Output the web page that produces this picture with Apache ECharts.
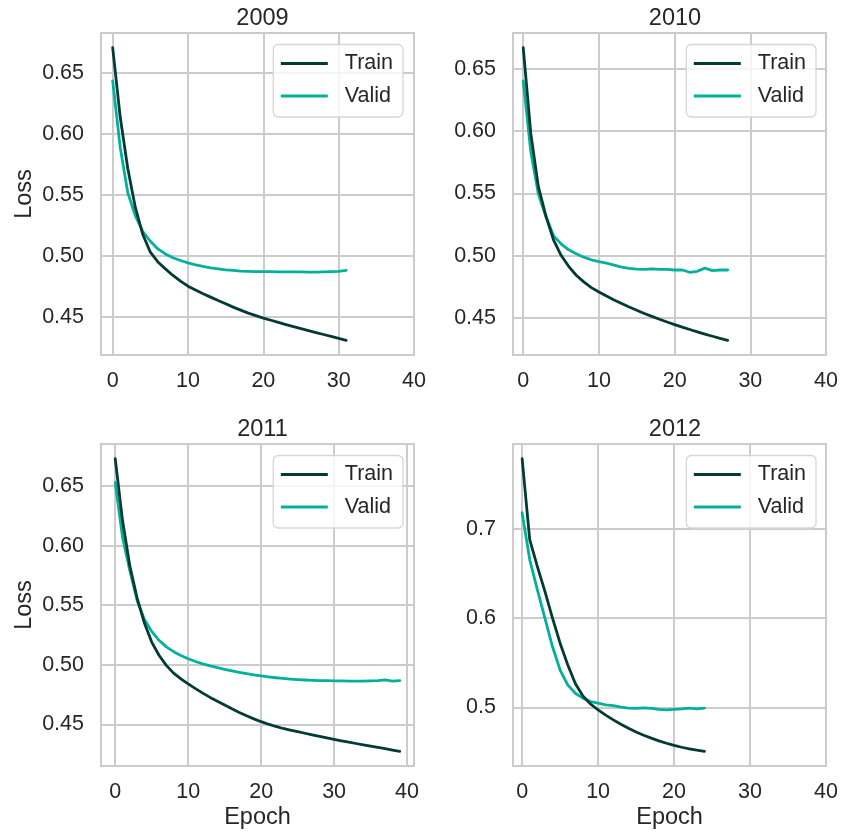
<!DOCTYPE html>
<html>
<head>
<meta charset="utf-8">
<script src="https://cdn.jsdelivr.net/npm/echarts@6/dist/echarts.min.js"></script>
<style>
  html, body { margin: 0; padding: 0; background: #ffffff; }
  #chart { width: 841px; height: 832px; }
</style>
</head>
<body>
<div id="chart"></div>
<script>
// Training / validation loss per epoch, one panel per year
const years = ['2009', '2010', '2011', '2012'];

const train2009 = [0.671, 0.614, 0.572, 0.540, 0.5175, 0.503, 0.495, 0.4893, 0.4839, 0.4792,
  0.4751, 0.4719, 0.4689, 0.4661, 0.4634, 0.4606, 0.4579, 0.4554, 0.4530, 0.4509,
  0.4489, 0.4471, 0.4453, 0.4436, 0.4419, 0.4402, 0.4386, 0.4370, 0.4354, 0.4338,
  0.4322, 0.4306];
const valid2009 = [0.6437, 0.589, 0.552, 0.533, 0.520, 0.512, 0.5057, 0.5016, 0.4984, 0.4962,
  0.4943, 0.4926, 0.4913, 0.4902, 0.4893, 0.4885, 0.4880, 0.4874, 0.4872, 0.4871,
  0.4870, 0.4870, 0.4868, 0.4868, 0.4869, 0.4868, 0.4867, 0.4867, 0.4868, 0.4870,
  0.4872, 0.4880];

const train2010 = [0.6668, 0.598, 0.5553, 0.5318, 0.5127, 0.5003, 0.4915, 0.4843, 0.4790, 0.4744,
  0.4709, 0.4676, 0.4645, 0.4616, 0.4588, 0.4562, 0.4537, 0.4513, 0.4490, 0.4468,
  0.4447, 0.4427, 0.4408, 0.4389, 0.4371, 0.4354, 0.4337, 0.4321];
const valid2010 = [0.6401, 0.5834, 0.5495, 0.5310, 0.5161, 0.5095, 0.5047, 0.5015, 0.4988, 0.4967,
  0.4953, 0.4940, 0.4924, 0.4908, 0.4898, 0.4892, 0.4890, 0.4895, 0.4890, 0.4890,
  0.4885, 0.4885, 0.4867, 0.4875, 0.4900, 0.4880, 0.4885, 0.4885];

const train2011 = [0.673, 0.621, 0.583, 0.556, 0.535, 0.519, 0.508, 0.4995, 0.4930, 0.4882,
  0.4840, 0.4800, 0.4762, 0.4726, 0.4693, 0.4662, 0.4630, 0.4600, 0.4572, 0.4546,
  0.4522, 0.4501, 0.4482, 0.4465, 0.4451, 0.4438, 0.4425, 0.4412, 0.4399, 0.4386,
  0.4374, 0.4362, 0.4351, 0.4339, 0.4328, 0.4317, 0.4306, 0.4295, 0.4284, 0.4273];
const valid2011 = [0.653, 0.607, 0.579, 0.554, 0.538, 0.528, 0.5205, 0.5150, 0.5110, 0.5077,
  0.5050, 0.5027, 0.5007, 0.4990, 0.4975, 0.4961, 0.4948, 0.4936, 0.4925, 0.4915,
  0.4906, 0.4898, 0.4891, 0.4885, 0.4880, 0.4876, 0.4872, 0.4869, 0.4867, 0.4866,
  0.4865, 0.4864, 0.4863, 0.4862, 0.4863, 0.4864, 0.4866, 0.4873, 0.4862, 0.4867];

const train2012 = [0.7785, 0.688, 0.658, 0.630, 0.600, 0.572, 0.548, 0.527, 0.513, 0.504,
  0.4974, 0.4915, 0.4862, 0.4813, 0.4768, 0.4727, 0.4691, 0.4658, 0.4628, 0.4601,
  0.4577, 0.4556, 0.4539, 0.4523, 0.4510];
const valid2012 = [0.718, 0.6656, 0.632, 0.600, 0.568, 0.542, 0.5254, 0.516, 0.5105, 0.5067,
  0.5049, 0.503, 0.5022, 0.5004, 0.4993, 0.499, 0.4996, 0.499, 0.498, 0.4974,
  0.498, 0.4985, 0.4993, 0.4985, 0.4993];

const trainSets = [train2009, train2010, train2011, train2012];
const validSets = [valid2009, valid2010, valid2011, valid2012];

const xTicks = [0, 10, 20, 30, 40];
const yTicksFine = [0.45, 0.50, 0.55, 0.60, 0.65];
const yTicksCoarse = [0.5, 0.6, 0.7];
const yTickSets = [yTicksFine, yTicksFine, yTicksFine, yTicksCoarse];
const yDecimals = [2, 2, 2, 1];

const seriesNames = ['Train', 'Valid'];

// ---- styling ----
const FONT = 'Liberation Sans, Arial, Helvetica, sans-serif';
const TEXT = '#262626';
const GRID_LINE = '#cccccc';
const C_TRAIN = '#013b33';
const C_VALID = '#03b09b';

// panel boxes (left, top, width, height)
const panels = [
  { left: 101, top: 33, width: 313, height: 322 },
  { left: 513, top: 33, width: 314, height: 322 },
  { left: 101, top: 444, width: 313, height: 322 },
  { left: 513, top: 444, width: 314, height: 322 }
];

const chart = echarts.init(document.getElementById('chart'), null, { renderer: 'canvas' });

const grid = [], xAxis = [], yAxis = [], series = [], title = [], legend = [];

panels.forEach((p, i) => {
  const tr = trainSets[i], va = validSets[i];
  const n = tr.length;
  const all = tr.concat(va);
  const lo = Math.min(...all), hi = Math.max(...all);
  const pad = (hi - lo) * 0.05;
  const xmin = -(n - 1) * 0.05;
  const xmax = Math.max(40, (n - 1) * 1.05);

  grid.push({
    left: p.left, top: p.top, width: p.width, height: p.height,
    show: true, borderColor: GRID_LINE, borderWidth: 2, backgroundColor: 'transparent',
    containLabel: false
  });

  const isBottom = i >= 2, isLeft = i % 2 === 0;

  xAxis.push({
    type: 'value', gridIndex: i, min: xmin, max: xmax,
    axisLine: { show: false },
    axisTick: { show: false, customValues: xTicks },
    axisLabel: {
      customValues: xTicks, fontSize: 21.5, color: TEXT, fontFamily: FONT, margin: 15,
      formatter: v => String(Math.round(v))
    },
    splitLine: { show: true, lineStyle: { color: GRID_LINE, width: 2 } },
    name: isBottom ? 'Epoch' : '', nameLocation: 'middle', nameGap: 40,
    nameTextStyle: { fontSize: 23.5, color: TEXT, fontFamily: FONT }
  });

  const yt = yTickSets[i];
  const dec = yDecimals[i];
  yAxis.push({
    type: 'value', gridIndex: i, min: lo - pad, max: hi + pad,
    axisLine: { show: false },
    axisTick: { show: false, customValues: yt },
    axisLabel: {
      customValues: yt, fontSize: 21.5, color: TEXT, fontFamily: FONT, margin: 17,
      formatter: v => v.toFixed(dec)
    },
    splitLine: { show: true, lineStyle: { color: GRID_LINE, width: 2 } },
    name: isLeft ? 'Loss' : '', nameLocation: 'middle', nameGap: 64,
    nameTextStyle: { fontSize: 23.5, color: TEXT, fontFamily: FONT }
  });

  [tr, va].forEach((arr, k) => {
    const color = k === 0 ? C_TRAIN : C_VALID;
    series.push({
      type: 'line', name: seriesNames[k], xAxisIndex: i, yAxisIndex: i,
      data: arr.map((v, e) => [e, v]),
      showSymbol: false, symbol: 'none', smooth: false,
      color: color,
      lineStyle: { color: color, width: 2.8, cap: 'round', join: 'round' },
      itemStyle: { color: color },
      emphasis: { disabled: true },
      animation: false, z: 3 + (1 - k)
    });
  });

  title.push({
    text: years[i], left: p.left + p.width / 2, top: p.top - 31, textAlign: 'center',
    textStyle: { fontSize: 23.5, fontWeight: 'normal', color: TEXT, fontFamily: FONT }
  });

  legend.push({
    data: seriesNames, orient: 'vertical',
    right: 841 - (p.left + p.width - 11), top: p.top + 11.5,
    icon: 'rect', itemWidth: 47, itemHeight: 3, itemGap: 10.5,
    padding: [8, 10, 10, 7.5],
    backgroundColor: 'rgba(255,255,255,0.8)',
    borderColor: '#d6d6d6', borderWidth: 1.3, borderRadius: 5,
    selectedMode: false,
    itemStyle: { borderWidth: 0 },
    textStyle: { fontSize: 21.5, color: TEXT, fontFamily: FONT, padding: [0, 0, 0, 12] }
  });
});

chart.setOption({
  animation: false,
  backgroundColor: '#ffffff',
  title, legend, grid, xAxis, yAxis, series
});
</script>
</body>
</html>
